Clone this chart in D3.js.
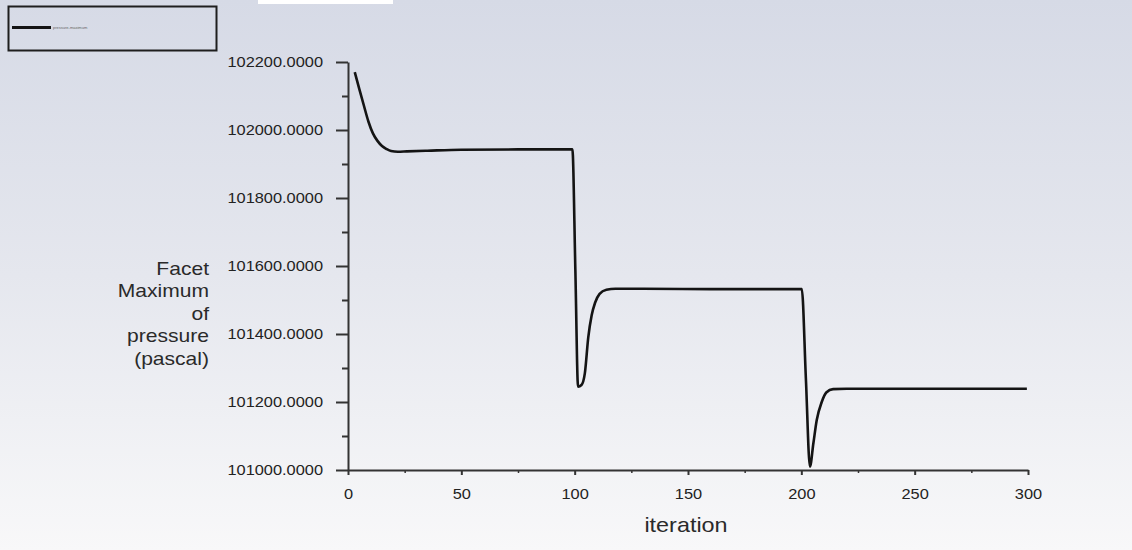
<!DOCTYPE html>
<html>
<head>
<meta charset="utf-8">
<script src="https://cdn.jsdelivr.net/npm/d3@7"></script>
<style>
html,body{margin:0;padding:0;background:#fff;}
svg{display:block;}
text{font-family:"Liberation Sans",Arial,sans-serif;}
</style>
</head>
<body>
<svg id="chart" width="1132" height="550"></svg>
<script>
// ---- data ----
const iterations = [3, 5, 7, 9, 11, 13, 15, 17, 19, 22, 26, 35, 50, 75, 99, 100.3,
  101.5, 103, 104.5, 106, 107.5, 109, 111, 114, 118, 130, 160, 200.2, 202,
  203.8, 205.3, 206.8, 209, 211, 214, 220, 250, 299.5];
const pressure = [102170, 102120, 102072, 102025, 101990, 101968, 101953, 101944, 101938, 101936, 101937, 101939, 101942, 101943, 101943, 101590,
  101245, 101250, 101285, 101390, 101455, 101492, 101518, 101530, 101533, 101533, 101532, 101532, 101270,
  101010, 101078, 101147, 101200, 101228, 101238, 101239, 101239, 101239];
const xTicks = [0, 50, 100, 150, 200, 250, 300];
const xMinorTicks = [25, 75, 125, 175, 225, 275];
const yTicks = [101000, 101200, 101400, 101600, 101800, 102000, 102200];
const yMinorTicks = [101100, 101300, 101500, 101700, 101900, 102100];
const yLabelLines = ["Facet", "Maximum", "of", "pressure", "(pascal)"];
const xLabel = "iteration";
const legendLabel = "pressure-maximum";

const svg = d3.select("#chart");
const W = 1132, H = 550;
const SX = 1.17; // horizontal stretch of the reference's text

// background gradient
const defs = svg.append("defs");
const grad = defs.append("linearGradient").attr("id", "bg").attr("x1", 0).attr("y1", 0).attr("x2", 0).attr("y2", 1);
grad.append("stop").attr("offset", "0%").attr("stop-color", "#d6dae6");
grad.append("stop").attr("offset", "50%").attr("stop-color", "#e5e7ee");
grad.append("stop").attr("offset", "100%").attr("stop-color", "#f8f8f9");
svg.append("rect").attr("width", W).attr("height", H).attr("fill", "url(#bg)");
svg.append("rect").attr("x", 258).attr("y", 0).attr("width", 135).attr("height", 4).attr("fill", "#ffffff");

const x = d3.scaleLinear().domain([0, 300]).range([348, 1028]);
const y = d3.scaleLinear().domain([101000, 102200]).range([470, 62]);

// minor ticks
svg.append("g").attr("transform", `translate(348,0)`)
  .call(d3.axisLeft(y).tickValues(yMinorTicks).tickSize(6).tickFormat(""))
  .call(g => g.select(".domain").remove())
  .call(g => g.selectAll("line").attr("stroke", "#333").attr("stroke-width", 2));
svg.append("g").attr("transform", `translate(0,470)`)
  .call(d3.axisBottom(x).tickValues(xMinorTicks).tickSize(3).tickFormat(""))
  .call(g => g.select(".domain").remove())
  .call(g => g.selectAll("line").attr("stroke", "#333").attr("stroke-width", 1.5));

// y axis
svg.append("g").attr("transform", `translate(348,0)`)
  .call(d3.axisLeft(y).tickValues(yTicks).tickSize(12).tickSizeOuter(0).tickFormat(d3.format(".4f")))
  .call(g => g.select(".domain").attr("stroke", "#333").attr("stroke-width", 2))
  .call(g => g.selectAll("line").attr("stroke", "#333").attr("stroke-width", 2))
  .call(g => g.selectAll("text")
    .attr("x", -25 / SX).attr("transform", `scale(${SX},1)`)
    .attr("font-size", 14).attr("fill", "#222").attr("font-family", "Liberation Sans, Arial, sans-serif"));

// x axis
svg.append("g").attr("transform", `translate(0,470)`)
  .call(d3.axisBottom(x).tickValues(xTicks).tickSize(5).tickSizeOuter(0).tickFormat(d3.format("d")))
  .call(g => g.select(".domain").attr("stroke", "#333").attr("stroke-width", 2))
  .call(g => g.selectAll("line").attr("stroke", "#333").attr("stroke-width", 2))
  .call(g => g.selectAll("text")
    .attr("y", 19).attr("transform", `scale(${SX},1)`)
    .attr("font-size", 14).attr("fill", "#222").attr("font-family", "Liberation Sans, Arial, sans-serif"));

// data line
const pts = iterations.map((it, i) => [it, pressure[i]]);
svg.append("path")
  .datum(pts)
  .attr("fill", "none")
  .attr("stroke", "#141414")
  .attr("stroke-width", 2.6)
  .attr("stroke-linejoin", "round")
  .attr("d", d3.line().x(d => x(d[0])).y(d => y(d[1])).curve(d3.curveMonotoneX));

// y label
const yl = svg.append("text")
  .attr("transform", `translate(209,275) scale(${SX},1)`)
  .attr("text-anchor", "end").attr("font-size", 18).attr("fill", "#2a2a2a");
yLabelLines.forEach((t, i) => {
  yl.append("tspan").attr("x", 0).attr("y", i * 22.5).text(t);
});

// x label
svg.append("text")
  .attr("transform", `translate(686,532) scale(${SX},1)`)
  .attr("text-anchor", "middle").attr("font-size", 20).attr("fill", "#2a2a2a")
  .text(xLabel);

// legend
svg.append("rect").attr("x", 8.5).attr("y", 6.5).attr("width", 208).attr("height", 44)
  .attr("fill", "none").attr("stroke", "#1e1e1e").attr("stroke-width", 2);
svg.append("line").attr("x1", 12).attr("x2", 51).attr("y1", 27.5).attr("y2", 27.5)
  .attr("stroke", "#141414").attr("stroke-width", 3);
svg.append("text").attr("x", 53).attr("y", 29).attr("font-size", 4).attr("fill", "#666")
  .text(legendLabel);
</script>
</body>
</html>
